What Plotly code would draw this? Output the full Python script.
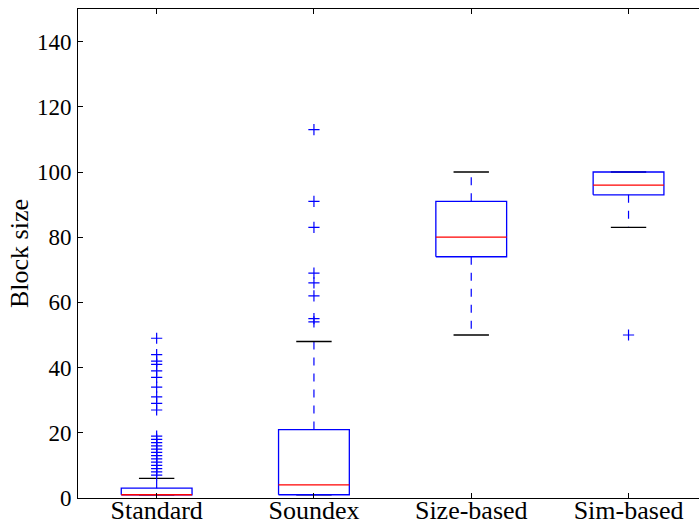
import plotly.graph_objects as go

categories = ["Standard", "Soundex", "Size-based", "Sim-based"]
q1 = [1, 1, 74, 93]
median = [1, 4, 80, 96]
q3 = [3, 21, 91, 100]
whisker_low = [1, 1, 50, 83]
whisker_high = [6, 48, 100, 100]
fliers = [
    [49, 44, 42, 41, 39, 37, 34, 31, 29, 27, 19, 18, 17, 16, 15, 14, 13, 12, 11, 10, 9, 8, 7],
    [113, 91, 83, 69, 66, 62, 55, 54],
    [],
    [50],
]
y_ticks = [0, 20, 40, 60, 80, 100, 120, 140]

BLUE = "#0000ff"
RED = "#ff0000"
BLACK = "#000000"
box_half = 0.225
cap_half = 0.1125

positions = list(range(1, len(categories) + 1))

fig = go.Figure()

# whiskers (dashed)
wx, wy = [], []
for p, a, b, c, d in zip(positions, q1, q3, whisker_low, whisker_high):
    wx += [p, p, None, p, p, None]
    wy += [b, d, None, a, c, None]
fig.add_trace(go.Scatter(x=wx, y=wy, mode="lines",
                         line=dict(color=BLUE, width=1.2, dash="8px,8px"),
                         hoverinfo="skip", showlegend=False))

# caps
cx, cy = [], []
for p, c, d in zip(positions, whisker_low, whisker_high):
    cx += [p - cap_half, p + cap_half, None, p - cap_half, p + cap_half, None]
    cy += [c, c, None, d, d, None]
fig.add_trace(go.Scatter(x=cx, y=cy, mode="lines",
                         line=dict(color=BLACK, width=1.3),
                         hoverinfo="skip", showlegend=False))

# boxes
bx, by = [], []
for p, a, b in zip(positions, q1, q3):
    bx += [p - box_half, p + box_half, p + box_half, p - box_half, p - box_half, None]
    by += [a, a, b, b, a, None]
fig.add_trace(go.Scatter(x=bx, y=by, mode="lines",
                         line=dict(color=BLUE, width=1.3),
                         hoverinfo="skip", showlegend=False))

# medians
mx, my = [], []
for p, m in zip(positions, median):
    mx += [p - box_half, p + box_half, None]
    my += [m, m, None]
fig.add_trace(go.Scatter(x=mx, y=my, mode="lines",
                         line=dict(color=RED, width=1.3),
                         hoverinfo="skip", showlegend=False))

# fliers
fx, fy = [], []
for p, fl in zip(positions, fliers):
    fx += [p] * len(fl)
    fy += fl
fig.add_trace(go.Scatter(x=fx, y=fy, mode="markers",
                         marker=dict(symbol="cross-thin", size=8,
                                     line=dict(color=BLUE, width=1.2), color=BLUE),
                         hoverinfo="skip", showlegend=False))

font_family = "Liberation Serif"
fig.update_layout(
    width=699, height=526,
    margin=dict(l=78, r=0, t=9, b=28),
    paper_bgcolor="white", plot_bgcolor="white",
    font=dict(family=font_family, color=BLACK),
    xaxis=dict(range=[0.5, 4.448], tickvals=positions, ticktext=categories,
               ticks="inside", ticklen=5, tickcolor=BLACK, showline=True,
               linecolor=BLACK, linewidth=1, mirror="ticks", showgrid=False,
               zeroline=False, automargin=False, ticklabelstandoff=-11,
               tickfont=dict(size=26, family=font_family)),
    yaxis=dict(range=[0, 150], tickvals=y_ticks, ticks="inside", ticklen=5,
               tickcolor=BLACK, showline=True, linecolor=BLACK, linewidth=1,
               showgrid=False, zeroline=False, automargin=True,
               ticklabelstandoff=1,
               tickfont=dict(size=23, family=font_family),
               title=dict(text="Block size", font=dict(size=26, family=font_family),
                          standoff=0)),
)

fig.write_html("out.html")
